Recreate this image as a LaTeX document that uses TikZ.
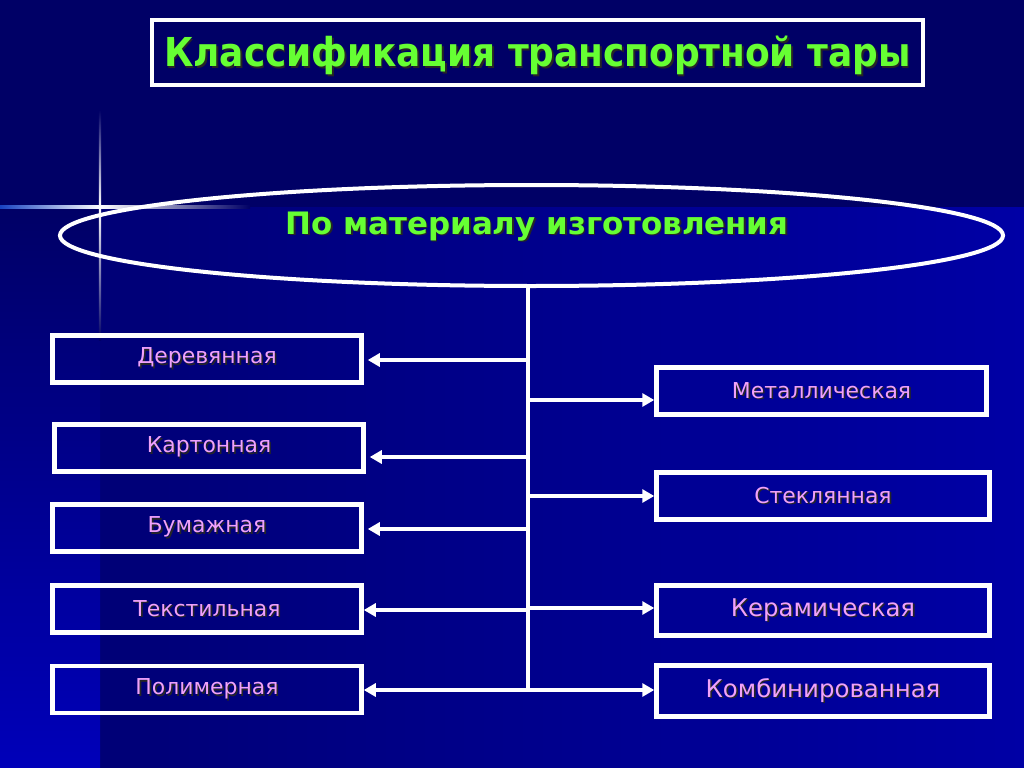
\documentclass[tikz,border=0pt]{standalone}
\usepackage{fontspec}
\setmainfont{DejaVu Sans}
\newfontfamily\etroite{DejaVu Sans Condensed}
\usetikzlibrary{arrows.meta,shapes.geometric}
\definecolor{fond}{RGB}{0,0,102}
\definecolor{fondbas}{RGB}{0,0,118}
\definecolor{fonddroit}{RGB}{0,0,165}
\definecolor{bande}{RGB}{0,0,185}
\definecolor{eclat}{RGB}{40,110,255}
\definecolor{vert}{RGB}{102,255,51}
\definecolor{rose}{RGB}{240,162,250}
\newcommand{\ombre}[1]{\makebox[0pt][l]{\hspace{1.6bp}\raisebox{-1.6bp}{\color{black!85}#1}}#1}

\begin{document}
\begin{tikzpicture}[x=1bp, y=-1bp,
    boite/.style={draw=white, line width=4.5bp, minimum height=47bp, inner sep=0pt, text=rose, font=\fontsize{22}{24}\selectfont},
    fleche/.style={draw=white, line width=4.2bp, -{Triangle[length=12bp,width=13bp]}},
    ligne/.style={draw=white, line width=4.2bp}]
    % Fond
    \fill[fond] (0,0) rectangle (1024,768);
    \shade[left color=fondbas, right color=fonddroit] (100,207) rectangle (1024,768);
    \shade[top color=fond, bottom color=bande] (0,207) rectangle (100,768);
    % Eclat
    \shade[left color=fond!40!eclat, right color=white] (0,205.5) rectangle (100,208);
    \shade[left color=white, right color=fond] (100,205.5) rectangle (250,208);
    \shade[top color=fond, bottom color=white] (98.8,110) rectangle (101.2,206.7);
    \shade[top color=white, bottom color=fond] (98.8,206.7) rectangle (101.2,340);
    % Titre
    \node[draw=white, line width=4.5bp, minimum width=771bp, minimum height=65bp, inner sep=0pt,
          text height=30bp, text depth=1bp,
          text=vert, font=\etroite\bfseries\fontsize{40}{42}\selectfont] (titre) at (537.5,52.5) {\ombre{Классификация транспортной тары}};
    % Ovale
    \node[ellipse, draw=white, line width=4bp, minimum width=943bp, minimum height=101bp, inner sep=0pt] (mat) at (531.5,235.5) {};
    \node[text=vert, font=\bfseries\fontsize{31}{33}\selectfont] (matt) at (537,227) {\ombre{По материалу изготовления}};
    % Boîtes de gauche
    \node[boite, minimum width=309bp] (bois) at (207,359) {\ombre{Деревянная}};
    \node[boite, minimum width=309bp] (carton) at (209,448) {\ombre{Картонная}};
    \node[boite, minimum width=309bp] (papier) at (207,528) {\ombre{Бумажная}};
    \node[boite, minimum width=309bp] (textile) at (207,609) {\ombre{Текстильная}};
    \node[boite, minimum width=309bp] (polymere) at (207,689.5) {\ombre{Полимерная}};
    % Boîtes de droite
    \node[boite, minimum width=330bp] (metal) at (821.5,391) {\ombre{Металлическая}};
    \node[boite, minimum width=333bp] (verre) at (823,496) {\ombre{Стеклянная}};
    \node[boite, minimum width=333bp, minimum height=50bp, font=\fontsize{24.5}{26}\selectfont] (ceramique) at (823,610.5) {\ombre{Керамическая}};
    \node[boite, minimum width=333bp, minimum height=51bp, font=\fontsize{24.5}{26}\selectfont] (combine) at (823,691) {\ombre{Комбинированная}};
    % Tronc
    \coordinate (bas) at (528,690);
    \coordinate (g1) at (528,360);
    \coordinate (g2) at (528,457);
    \coordinate (g3) at (528,529);
    \coordinate (g4) at (528,610);
    \coordinate (d1) at (528,400);
    \coordinate (d2) at (528,496);
    \coordinate (d3) at (528,608);
    \draw[ligne] (mat.south -| bas) -- (bas);
    % Flèches
    \draw[fleche, shorten >=4bp] (g1) -- (g1 -| bois.east);
    \draw[fleche, shorten >=4bp] (g2) -- (g2 -| carton.east);
    \draw[fleche, shorten >=4bp] (g3) -- (g3 -| papier.east);
    \draw[fleche] (g4) -- (g4 -| textile.east);
    \draw[fleche] (bas) -- (bas -| polymere.east);
    \draw[fleche] (d1) -- (d1 -| metal.west);
    \draw[fleche] (d2) -- (d2 -| verre.west);
    \draw[fleche] (d3) -- (d3 -| ceramique.west);
    \draw[fleche] (bas) -- (bas -| combine.west);
\end{tikzpicture}
\end{document}
